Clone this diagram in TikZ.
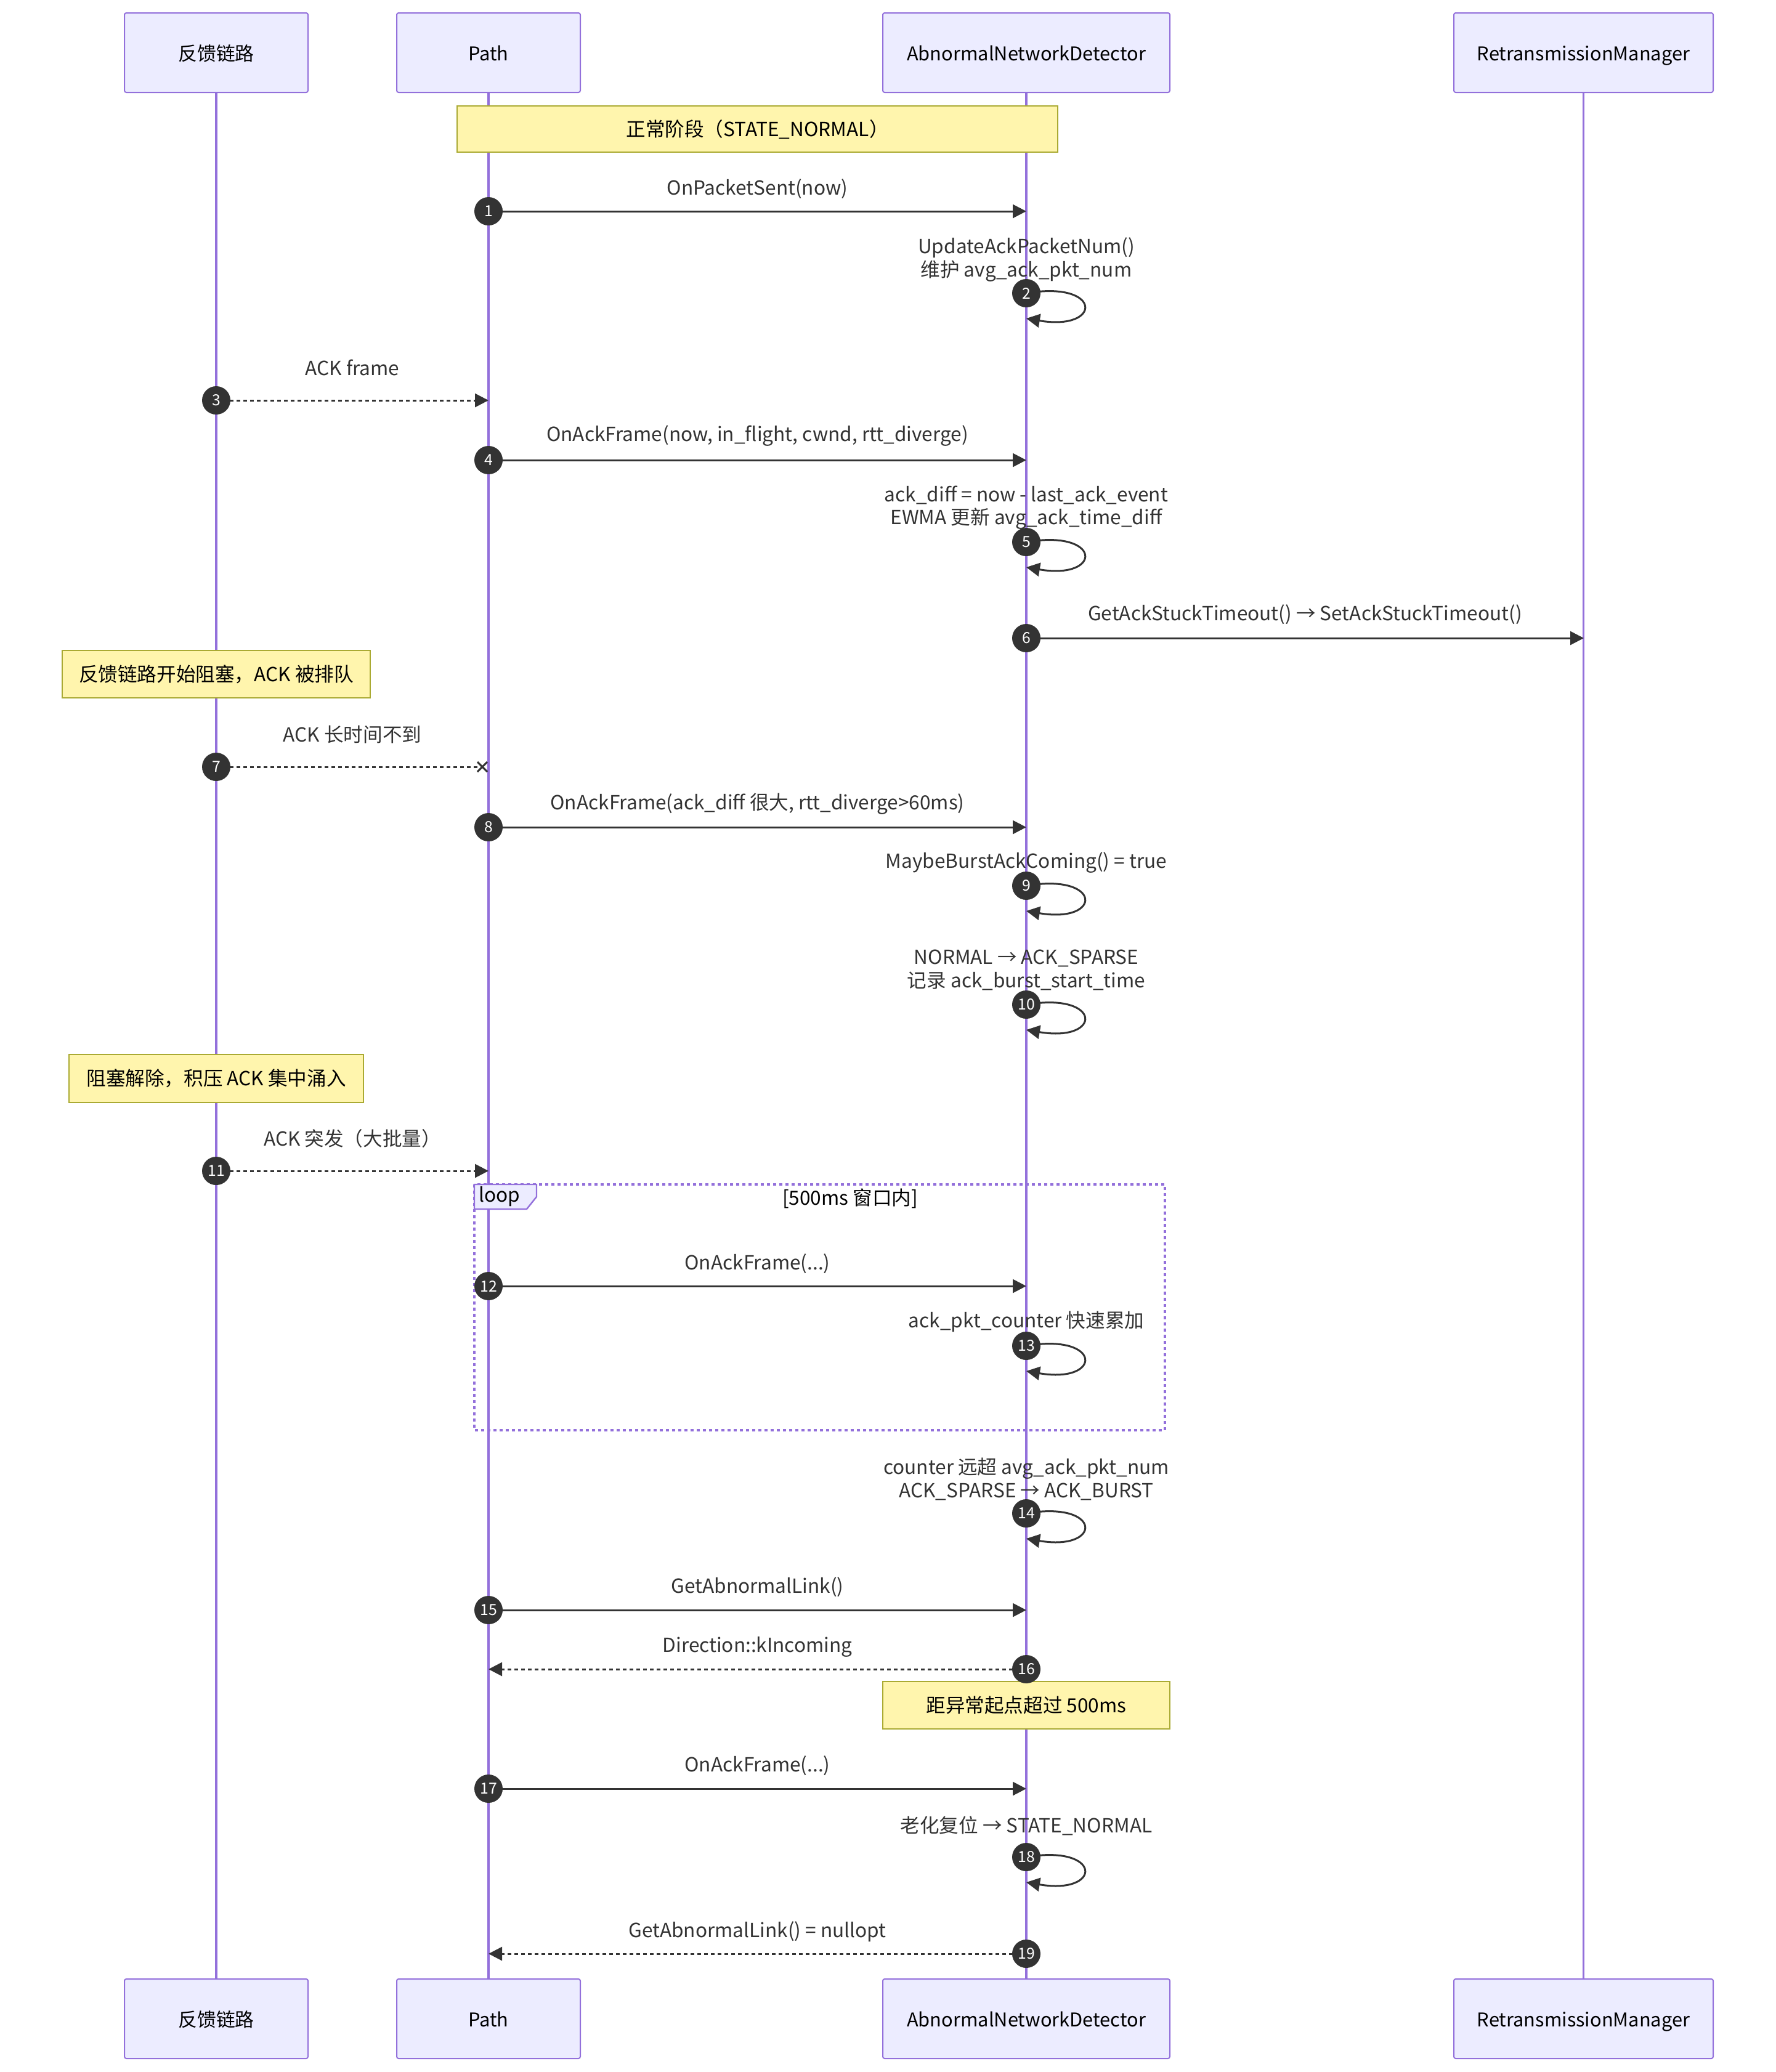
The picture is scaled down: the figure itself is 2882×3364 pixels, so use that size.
\documentclass[tikz,border=0pt]{standalone}
\usepackage{fontspec}
\setmainfont{Noto Sans CJK SC}
\usetikzlibrary{arrows.meta}
\definecolor{actfill}{HTML}{ECECFF}
\definecolor{actline}{HTML}{9370DB}
\definecolor{notefill}{HTML}{FFF5AD}
\definecolor{noteline}{HTML}{AAAA33}
\definecolor{ink}{HTML}{333333}
\begin{document}
\begin{tikzpicture}[x=0.25pt,y=-0.25pt,
  basefont/.style={font=\fontsize{7.9pt}{9.4pt}\selectfont},
  lbl/.style={basefont, text=ink, inner sep=0pt, align=center},
  actor/.style={font=\fontsize{7.7pt}{9.4pt}\selectfont, draw=actline, fill=actfill, line width=0.5pt, rounded corners=0.75pt, text=black, minimum height=32.25pt, inner sep=0pt, text height=8.2pt, text depth=1.7pt},
  notebox/.style={basefont, draw=noteline, fill=notefill, line width=0.5pt, text=black, inner sep=0pt, text height=7.5pt, text depth=1.7pt},
  lifeline/.style={draw=actline, line width=0.8pt},
  msg/.style={draw=ink, line width=0.75pt, -{Triangle[length=5.5pt,width=5.5pt]}},
  rmsg/.style={msg, dash pattern=on 1.5pt off 1.25pt},
  num/.style={circle, fill=ink, minimum size=11.5pt, inner sep=0pt, text=white, font=\fontsize{6.2pt}{6.2pt}\selectfont},
]
\useasboundingbox[fill=white] (0,0) rectangle (2882,3364);

% participants
\node[actor, minimum width=74.5pt] (p1t) at (351,85.5) {反馈链路};
\node[actor, minimum width=74.5pt] (p2t) at (793,85.5) {Path};
\node[actor, minimum width=116.5pt] (p3t) at (1666,85.5) {AbnormalNetworkDetector};
\node[actor, minimum width=105.25pt] (p4t) at (2570.5,85.5) {RetransmissionManager};
\node[actor, minimum width=74.5pt] (p1b) at (351,3277.5) {反馈链路};
\node[actor, minimum width=74.5pt] (p2b) at (793,3277.5) {Path};
\node[actor, minimum width=116.5pt] (p3b) at (1666,3277.5) {AbnormalNetworkDetector};
\node[actor, minimum width=105.25pt] (p4b) at (2570.5,3277.5) {RetransmissionManager};

\draw[lifeline] (p1t.south) -- (p1b.north);
\draw[lifeline] (p2t.south) -- (p2b.north);
\draw[lifeline] (p3t.south) -- (p3b.north);
\draw[lifeline] (p4t.south) -- (p4b.north);

% notes
\node[notebox, minimum width=243.75pt, minimum height=18.75pt] (n1) at (1229.5,209.5) {正常阶段（STATE\_NORMAL）};
\node[notebox, minimum width=125pt, minimum height=19.25pt] (n2) at (351,1094.5) {反馈链路开始阻塞，ACK 被排队};
\node[notebox, minimum width=119.5pt, minimum height=19.5pt] (n3) at (351,1751) {阻塞解除，积压 ACK 集中涌入};
\node[notebox, minimum width=116.5pt, minimum height=19.25pt] (n4) at (1666,2768.5) {距异常起点超过 500ms};

% loop frame
\draw[actline, line width=0.85pt, dash pattern=on 1.25pt off 1.25pt] (770,1923) rectangle (1891,2322);
\draw[actline, fill=actfill, line width=0.6pt] (770,1923) -- (871,1923) -- (871,1943) -- (855,1963) -- (770,1963) -- cycle;
\node[lbl, text=black] (looptag) at (811,1943) {loop};
\node[lbl, text=black] (loopcond) at (1380,1946) {[500ms 窗口内]};

% coordinates
\coordinate (s1) at (793,343);   \coordinate (t1) at (1666,343);
\coordinate (s2) at (1666,476);  \coordinate (t2) at (1666,517);
\coordinate (s3) at (351,650);   \coordinate (t3) at (793,650);
\coordinate (s4) at (793,747);   \coordinate (t4) at (1666,747);
\coordinate (s5) at (1666,880);  \coordinate (t5) at (1666,921);
\coordinate (s6) at (1666,1036); \coordinate (t6) at (2571,1036);
\coordinate (s7) at (351,1245);  \coordinate (t7) at (783,1245);
\coordinate (s8) at (793,1343);  \coordinate (t8) at (1666,1343);
\coordinate (s9) at (1666,1438); \coordinate (t9) at (1666,1479);
\coordinate (s10) at (1666,1631); \coordinate (t10) at (1666,1672);
\coordinate (s11) at (351,1901); \coordinate (t11) at (793,1901);
\coordinate (s12) at (793,2088); \coordinate (t12) at (1666,2088);
\coordinate (s13) at (1666,2185); \coordinate (t13) at (1666,2226);
\coordinate (s14) at (1666,2457); \coordinate (t14) at (1666,2498);
\coordinate (s15) at (793,2614); \coordinate (t15) at (1666,2614);
\coordinate (s16) at (1666,2710); \coordinate (t16) at (793,2710);
\coordinate (s17) at (793,2904); \coordinate (t17) at (1666,2904);
\coordinate (s18) at (1666,3015); \coordinate (t18) at (1666,3056);
\coordinate (s19) at (1666,3172); \coordinate (t19) at (793,3172);

% messages
\draw[msg] (s1) -- (t1);
\draw[msg] (s2) .. controls +(124,-21) and +(124,21) .. (t2);
\draw[rmsg] (s3) -- (t3);
\draw[msg] (s4) -- (t4);
\draw[msg] (s5) .. controls +(124,-21) and +(124,21) .. (t5);
\draw[msg] (s6) -- (t6);
\draw[draw=ink, line width=0.75pt, dash pattern=on 1.5pt off 1.25pt] (s7) -- (t7);
\draw[draw=ink, line width=0.75pt] (t7) +(-8,-8) -- +(8,8) +(-8,8) -- +(8,-8);
\draw[msg] (s8) -- (t8);
\draw[msg] (s9) .. controls +(124,-21) and +(124,21) .. (t9);
\draw[msg] (s10) .. controls +(124,-21) and +(124,21) .. (t10);
\draw[rmsg] (s11) -- (t11);
\draw[msg] (s12) -- (t12);
\draw[msg] (s13) .. controls +(124,-21) and +(124,21) .. (t13);
\draw[msg] (s14) .. controls +(124,-21) and +(124,21) .. (t14);
\draw[msg] (s15) -- (t15);
\draw[rmsg] (s16) -- (t16);
\draw[msg] (s17) -- (t17);
\draw[msg] (s18) .. controls +(124,-21) and +(124,21) .. (t18);
\draw[rmsg] (s19) -- (t19);

% sequence numbers
\foreach \i in {1,...,19} { \node[num] (c\i) at (s\i) {\i}; }

% labels
\node[lbl] (m1) at (1229.5,307) {OnPacketSent(now)};
\node[lbl] (m2) at (1666,421.5) {UpdateAckPacketNum()\\维护 avg\_ack\_pkt\_num};
\node[lbl] (m3) at (572,597) {ACK frame};
\node[lbl] (m4) at (1229.5,708) {OnAckFrame(now, in\_flight, cwnd, rtt\_diverge)};
\node[lbl] (m5) at (1666,824) {ack\_diff = now - last\_ack\_event\\EWMA 更新 avg\_ack\_time\_diff};
\node[lbl] (m6) at (2118.5,998) {GetAckStuckTimeout() → SetAckStuckTimeout()};
\node[lbl] (m7) at (572,1193) {ACK 长时间不到};
\node[lbl] (m8) at (1229.5,1305) {OnAckFrame(ack\_diff 很大, rtt\_diverge>60ms)};
\node[lbl] (m9) at (1666,1401) {MaybeBurstAckComing() = true};
\node[lbl] (m10) at (1666,1575) {NORMAL → ACK\_SPARSE\\记录 ack\_burst\_start\_time};
\node[lbl] (m11) at (572,1848) {ACK 突发（大批量）};
\node[lbl] (m12) at (1229.5,2052) {OnAckFrame(...)};
\node[lbl] (m13) at (1666,2146) {ack\_pkt\_counter 快速累加};
\node[lbl] (m14) at (1666,2401.5) {counter 远超 avg\_ack\_pkt\_num\\ACK\_SPARSE → ACK\_BURST};
\node[lbl] (m15) at (1229.5,2577) {GetAbnormalLink()};
\node[lbl] (m16) at (1229.5,2674) {Direction::kIncoming};
\node[lbl] (m17) at (1229.5,2867) {OnAckFrame(...)};
\node[lbl] (m18) at (1666,2964) {老化复位 → STATE\_NORMAL};
\node[lbl] (m19) at (1229.5,3136) {GetAbnormalLink() = nullopt};
\end{tikzpicture}
\end{document}
